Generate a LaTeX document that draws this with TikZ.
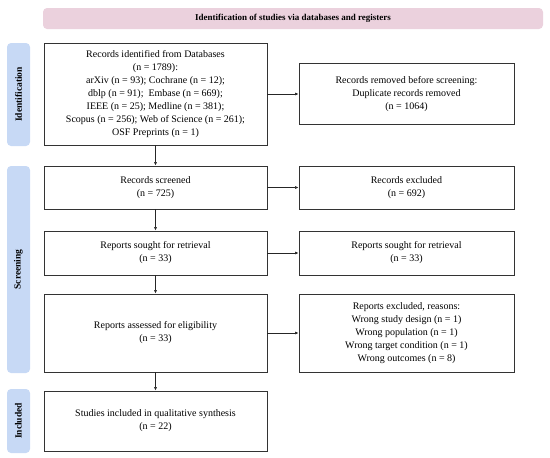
\documentclass[tikz,border=0pt]{standalone}
\usepackage{fontspec}
\setmainfont{Liberation Serif}
\usetikzlibrary{arrows.meta}
\definecolor{phasebg}{HTML}{C7D9F5}
\definecolor{titlebg}{HTML}{EBD1DD}
\tikzstyle{box}=[draw=black!80, line width=0.8pt, align=center,
    font=\fontsize{10}{13}\selectfont, inner sep=0pt]
\tikzstyle{phase}=[fill=phasebg, rounded corners=4pt, minimum width=23pt,
    inner sep=0pt]
\tikzstyle{phaselabel}=[rotate=90, font=\fontsize{9.5}{11}\selectfont\bfseries]
\tikzstyle{flow}=[-{Latex[length=3.5pt,width=3pt]}, line width=0.6pt, black!85]

\begin{document}
\begin{tikzpicture}[x=1pt,y=-1pt]
  \useasboundingbox (0,0) rectangle (550,458);
  % title banner
  \node[fill=titlebg, rounded corners=4pt, minimum width=500pt, minimum height=21pt,
        font=\fontsize{9}{11}\selectfont\bfseries] at (293,18.5) (title)
        {Identification of studies via databases and registers};
  % phases on the left
  \node[phase, minimum height=103pt] at (18.5,94.5) (ident) {};
  \node[phaselabel] at (ident) {Identification};
  \node[phase, minimum height=207pt] at (18.5,269.5) (screen) {};
  \node[phaselabel] at (screen) {Screening};
  \node[phase, minimum height=64pt] at (18.5,421) (incl) {};
  \node[phaselabel] at (incl) {Included};
  % main column
  \node[box, minimum width=223pt, minimum height=102pt] at (155.5,94) (recid)
    {Records identified from Databases\\(n = 1789):\\arXiv (n = 93); Cochrane (n = 12);\\
     dblp (n = 91);\ \ Embase (n = 669);\\IEEE (n = 25); Medline (n = 381);\\
     Scopus (n = 256); Web of Science (n = 261);\\OSF Preprints (n = 1)};
  \node[box, minimum width=223pt, minimum height=43pt] at (155.5,187.5) (recscr)
    {Records screened\\(n = 725)};
  \node[box, minimum width=223pt, minimum height=44pt] at (155.5,253) (sought)
    {Reports sought for retrieval\\(n = 33)};
  \node[box, minimum width=223pt, minimum height=78pt] at (155.5,333) (assess)
    {Reports assessed for eligibility\\(n = 33)};
  \node[box, minimum width=223pt, minimum height=60pt] at (155.5,421) (studies)
    {Studies included in qualitative synthesis\\(n = 22)};
  % right column
  \node[box, minimum width=215pt, minimum height=61pt] at (406.5,94) (removed)
    {Records removed before screening:\\Duplicate records removed\\(n = 1064)};
  \node[box, minimum width=215pt, minimum height=43pt] at (406.5,187.5) (recexc)
    {Records excluded\\(n = 692)};
  \node[box, minimum width=215pt, minimum height=44pt] at (406.5,253) (notret)
    {Reports sought for retrieval\\(n = 33)};
  \node[box, minimum width=215pt, minimum height=78pt] at (406.5,333) (repexc)
    {Reports excluded, reasons:\\Wrong study design (n = 1)\\Wrong population (n = 1)\\
     Wrong target condition (n = 1)\\Wrong outcomes (n = 8)};
  % arrows
  \draw[flow] (recid) -- (recscr);
  \draw[flow] (recscr) -- (sought);
  \draw[flow] (sought) -- (assess);
  \draw[flow] (assess) -- (studies);
  \draw[flow] (recid) -- (removed);
  \draw[flow] (recscr) -- (recexc);
  \draw[flow] (sought) -- (notret);
  \draw[flow] (assess) -- (repexc);
\end{tikzpicture}
\end{document}
